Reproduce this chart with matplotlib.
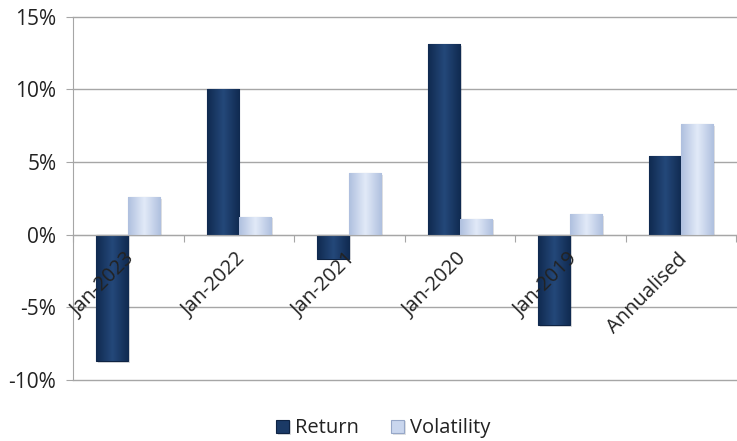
import numpy as np
import matplotlib
matplotlib.use("Agg")
import matplotlib.pyplot as plt
from matplotlib.ticker import FuncFormatter, FixedLocator
import matplotlib.patheffects as pe

plt.rcParams['font.family'] = ['Open Sans', 'DejaVu Sans']

categories = ["Jan-2023", "Jan-2022", "Jan-2021", "Jan-2020", "Jan-2019", "Annualised"]
returns = [-8.7, 10.0, -1.65, 13.1, -6.2, 5.45]
volatility = [2.6, 1.25, 4.25, 1.1, 1.4, 7.6]

ret_col = "#1B3A66"
vol_col = "#C9D6EE"


def shade(ax, bars, dark, light):
    # horizontal gradient inside each bar to mimic the bevel look
    cmap = matplotlib.colors.LinearSegmentedColormap.from_list("g", [dark, light, dark])
    grad = np.linspace(0, 1, 64).reshape(1, -1)
    for b in bars:
        x, y = b.get_x(), b.get_y()
        w, h = b.get_width(), b.get_height()
        im = ax.imshow(grad, cmap=cmap, aspect="auto", extent=(x, x + w, y, y + h),
                       zorder=3, interpolation="bicubic")
        im.set_clip_path(b)


fig, ax = plt.subplots(figsize=(7.37, 4.41), dpi=100)
fig.subplots_adjust(left=0.099, right=0.999, bottom=0.138, top=0.962)

x = np.arange(len(categories))
w = 0.29
shadow = [pe.SimplePatchShadow(offset=(1.2, -1.2), alpha=0.15), pe.Normal()]
b1 = ax.bar(x - w / 2, returns, w, color=ret_col, edgecolor="#0E2343", linewidth=0.8,
            label="Return", zorder=3, path_effects=shadow)
b2 = ax.bar(x + w / 2, volatility, w, color=vol_col, edgecolor="#96A7C8", linewidth=0.8,
            label="Volatility", zorder=3, path_effects=shadow)
shade(ax, b1, "#102A50", "#24487A")
shade(ax, b2, "#AFC0DF", "#E2EAF8")

ax.set_xlim(-0.5, len(categories) - 0.5)
ax.set_ylim(-10, 15)
ax.set_yticks(np.arange(-10, 16, 5))
ax.yaxis.set_major_formatter(FuncFormatter(lambda v, p: f"{v:.0f}%"))
ax.yaxis.grid(True, color="#A6A6A6", linewidth=1)
for gl in ax.get_ygridlines():
    gl.set_clip_on(False)
ax.set_axisbelow(True)

ax.spines['top'].set_visible(False)
ax.spines['right'].set_visible(False)
ax.spines['left'].set_color("#A6A6A6")
ax.spines['bottom'].set_position(('data', 0))
ax.spines['bottom'].set_color("#A6A6A6")
ax.spines['bottom'].set_zorder(4)

ax.xaxis.set_major_locator(FixedLocator(np.arange(-0.5, len(categories), 1.0)))
ax.set_xticklabels([])
ax.tick_params(axis='x', length=5, color="#A6A6A6", direction='out')
ax.tick_params(axis='y', length=5, color="#A6A6A6", labelsize=15, labelcolor="#222222", pad=7)

for i, c in enumerate(categories):
    ax.text(i - 0.03, -1.0, c, rotation=45, ha='right', va='top', rotation_mode='anchor',
            fontsize=14.5, color="#222222", zorder=5)

leg = fig.legend(handles=[b1, b2], loc='lower center', bbox_to_anchor=(0.52, -0.035), ncol=2,
                 frameon=False, fontsize=14.5, handlelength=0.65, handleheight=0.65,
                 handletextpad=0.3, columnspacing=1.6)
for t in leg.get_texts():
    t.set_color("#222222")

fig.savefig("out.png", dpi=100)
